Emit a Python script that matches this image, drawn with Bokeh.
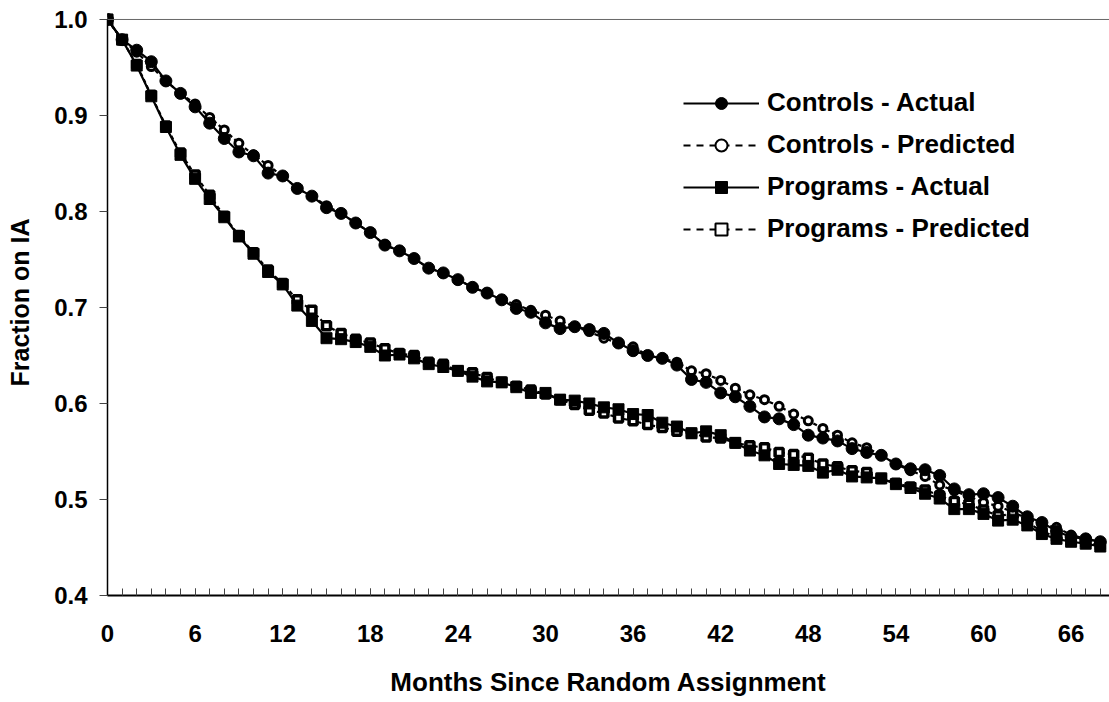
from bokeh.plotting import figure
from bokeh.models import (Range1d, FixedTicker, PrintfTickFormatter, Span,
                          Legend, LegendItem)
from bokeh.embed import file_html
from bokeh.resources import INLINE

# Months since random assignment
months = list(range(69))

# Fraction of each group still on IA, month by month
controls_actual = [
    1.000, 0.979, 0.968, 0.956, 0.936, 0.923, 0.909, 0.892, 0.876, 0.862,
    0.858, 0.840, 0.837, 0.824, 0.816, 0.804, 0.798, 0.788, 0.778, 0.765,
    0.759, 0.751, 0.741, 0.736, 0.729, 0.721, 0.715, 0.708, 0.699, 0.695,
    0.684, 0.678, 0.680, 0.677, 0.673, 0.663, 0.655, 0.650, 0.647, 0.640,
    0.625, 0.622, 0.611, 0.607, 0.597, 0.586, 0.584, 0.578, 0.567, 0.564,
    0.561, 0.553, 0.549, 0.546, 0.537, 0.532, 0.531, 0.525, 0.511, 0.505,
    0.506, 0.502, 0.493, 0.482, 0.476, 0.467, 0.461, 0.459, 0.456,
]
controls_predicted = [
    1.000, 0.979, 0.966, 0.951, 0.936, 0.923, 0.912, 0.898, 0.885, 0.871,
    0.859, 0.848, 0.837, 0.824, 0.816, 0.806, 0.798, 0.788, 0.778, 0.765,
    0.759, 0.751, 0.741, 0.736, 0.729, 0.721, 0.715, 0.708, 0.703, 0.697,
    0.692, 0.686, 0.680, 0.675, 0.668, 0.663, 0.659, 0.650, 0.647, 0.643,
    0.634, 0.631, 0.624, 0.616, 0.609, 0.604, 0.597, 0.589, 0.582, 0.574,
    0.567, 0.559, 0.554, 0.546, 0.537, 0.530, 0.524, 0.515, 0.509, 0.503,
    0.497, 0.493, 0.487, 0.480, 0.474, 0.471, 0.463, 0.459, 0.456,
]
programs_actual = [
    1.000, 0.979, 0.952, 0.920, 0.888, 0.859, 0.834, 0.813, 0.794, 0.774,
    0.756, 0.737, 0.724, 0.702, 0.686, 0.668, 0.667, 0.664, 0.659, 0.650,
    0.651, 0.647, 0.641, 0.638, 0.634, 0.628, 0.623, 0.622, 0.617, 0.611,
    0.611, 0.604, 0.603, 0.600, 0.596, 0.594, 0.589, 0.588, 0.580, 0.576,
    0.569, 0.571, 0.567, 0.559, 0.551, 0.546, 0.537, 0.536, 0.535, 0.528,
    0.531, 0.524, 0.523, 0.522, 0.516, 0.512, 0.506, 0.501, 0.490, 0.490,
    0.485, 0.478, 0.479, 0.473, 0.464, 0.459, 0.456, 0.454, 0.451,
]
programs_predicted = [
    1.000, 0.979, 0.953, 0.921, 0.889, 0.861, 0.838, 0.817, 0.795, 0.775,
    0.757, 0.739, 0.725, 0.708, 0.697, 0.681, 0.673, 0.667, 0.663, 0.657,
    0.652, 0.650, 0.643, 0.641, 0.634, 0.632, 0.627, 0.622, 0.618, 0.614,
    0.610, 0.604, 0.599, 0.593, 0.590, 0.585, 0.582, 0.578, 0.575, 0.571,
    0.569, 0.565, 0.564, 0.559, 0.556, 0.554, 0.549, 0.547, 0.543, 0.537,
    0.534, 0.530, 0.528, 0.522, 0.517, 0.513, 0.510, 0.504, 0.498, 0.495,
    0.489, 0.483, 0.485, 0.476, 0.467, 0.461, 0.457, 0.455, 0.452,
]

series_names = ["Controls - Actual", "Controls - Predicted",
                "Programs - Actual", "Programs - Predicted"]
x_ticks = [0, 6, 12, 18, 24, 30, 36, 42, 48, 54, 60, 66]
y_ticks = [0.4, 0.5, 0.6, 0.7, 0.8, 0.9, 1.0]

FONT = "Liberation Sans"
NAN = float("nan")

p = figure(width=1109, height=702, output_backend="svg", toolbar_location=None,
           x_range=Range1d(0, 68.63), y_range=Range1d(0.4, 1.0104),
           min_border_left=107, min_border_right=0, min_border_top=9,
           min_border_bottom=107)
p.grid.visible = False
p.outline_line_color = None
p.background_fill_color = "white"
p.border_fill_color = "white"

# top border of the plotting area at 1.0
p.add_layout(Span(location=1.0, dimension="width", line_color="#666666",
                  line_width=1))

# x axis: a small inward tick every month, labels every six months
xa = p.xaxis[0]
xa.ticker = FixedTicker(ticks=x_ticks, minor_ticks=months)
xa.major_tick_in = 7
xa.major_tick_out = 0
xa.minor_tick_in = 7
xa.minor_tick_out = 0
xa.major_tick_line_color = "#444444"
xa.minor_tick_line_color = "#444444"
xa.axis_line_color = "black"
xa.axis_line_width = 2
xa.major_label_standoff = 29
xa.major_label_text_font = FONT
xa.major_label_text_font_style = "bold"
xa.major_label_text_font_size = "24px"
xa.major_label_text_color = "black"
xa.axis_label = "Months Since Random Assignment"
xa.axis_label_text_font = FONT
xa.axis_label_text_font_style = "bold"
xa.axis_label_text_font_size = "26px"
xa.axis_label_text_color = "black"
xa.axis_label_standoff = 22

# y axis
ya = p.yaxis[0]
ya.ticker = FixedTicker(ticks=y_ticks)
ya.bounds = (0.4, 1.0)
ya.formatter = PrintfTickFormatter(format="%.1f")
ya.major_tick_in = 0
ya.major_tick_out = 8
ya.minor_tick_line_color = None
ya.major_tick_line_color = "#444444"
ya.axis_line_color = "black"
ya.axis_line_width = 1.5
ya.major_label_standoff = 12
ya.major_label_text_font = FONT
ya.major_label_text_font_style = "bold"
ya.major_label_text_font_size = "24px"
ya.major_label_text_color = "black"
ya.axis_label = "Fraction on IA"
ya.axis_label_text_font = FONT
ya.axis_label_text_font_style = "bold"
ya.axis_label_text_font_size = "25px"
ya.axis_label_text_color = "black"
ya.axis_label_standoff = 17

# filled markers for actual values; open markers with heavy outline for predictions
styles = [
    dict(values=controls_actual, dash="solid", legend_dash="solid",
         marker="circle", fill="black", size=12, lw=1,
         legend_size=8, legend_lw=1),
    dict(values=controls_predicted, dash="4 3", legend_dash="7 6",
         marker="circle", fill="white", size=8, lw=3,
         legend_size=6, legend_lw=2),
    dict(values=programs_actual, dash="solid", legend_dash="solid",
         marker="square", fill="black", size=11, lw=1,
         legend_size=8, legend_lw=1),
    dict(values=programs_predicted, dash="4 3", legend_dash="7 6",
         marker="square", fill="white", size=8, lw=3.5,
         legend_size=6, legend_lw=2),
]

# predicted series go underneath, actual series on top
for idx in (1, 3, 0, 2):
    st = styles[idx]
    p.line(months, st["values"], line_color="black", line_width=2.2,
           line_dash=st["dash"])
    p.scatter(months, st["values"], marker=st["marker"], size=st["size"],
              fill_color=st["fill"], line_color="black", line_width=st["lw"])

items = []
for name, st in zip(series_names, styles):
    # smaller glyphs used only for the legend swatches (no visible data)
    lg_line = p.line([NAN], [NAN], line_color="black", line_width=2.2,
                     line_dash=st["legend_dash"])
    lg_mark = p.scatter([NAN], [NAN], marker=st["marker"],
                        size=st["legend_size"], fill_color=st["fill"],
                        line_color="black", line_width=st["legend_lw"])
    items.append(LegendItem(label=name, renderers=[lg_line, lg_mark]))

legend = Legend(items=items, location=(576, 351), orientation="vertical",
                label_text_font=FONT, label_text_font_style="bold",
                label_text_font_size="26px", label_text_color="black",
                glyph_width=76, glyph_height=30, label_height=30,
                label_standoff=8, spacing=11, padding=0, margin=0,
                border_line_alpha=0, background_fill_alpha=0)
p.add_layout(legend)

open("out.html", "w").write(file_html(p, INLINE))
